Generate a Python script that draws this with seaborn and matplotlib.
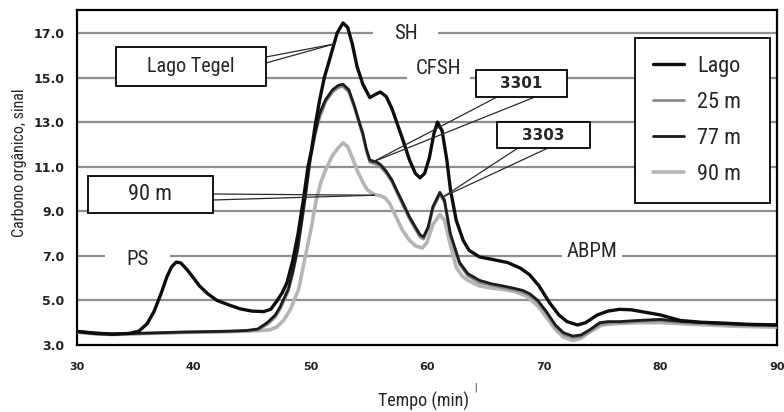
import numpy as np
import pandas as pd
import matplotlib
matplotlib.use('Agg')
import matplotlib.pyplot as plt
import seaborn as sns
from matplotlib import font_manager
from matplotlib.patches import Rectangle

# ---------------- data ----------------
t_lago = [30.0, 31.5, 33.0, 34.5, 35.3, 36.0, 36.6, 37.2, 37.7, 38.1,
          38.5, 38.9, 39.4, 40.0, 40.5, 41.2, 42.0, 43.0, 44.0, 45.0,
          46.0, 46.6, 47.1, 47.6, 48.0, 48.5, 48.95, 49.4, 49.8, 50.1,
          50.4, 50.8, 51.2, 51.7, 52.3, 52.8, 53.2, 53.6, 54.0, 54.5,
          55.1, 55.6, 56.0, 56.5, 57.0, 57.4, 58.0, 58.5, 59.0, 59.4,
          59.8, 60.2, 60.6, 60.9, 61.3, 61.7, 62.0, 62.5, 63.1, 63.6,
          64.5, 65.5, 66.9, 68.0, 68.8, 69.6, 70.5, 71.3, 72.0, 72.9,
          73.6, 74.6, 75.5, 76.5, 77.5, 78.9, 80.0, 81.7, 83.5, 85.5,
          87.5, 90.0]
v_lago = [3.60, 3.52, 3.48, 3.52, 3.62, 3.95, 4.50, 5.30, 6.05, 6.50,
          6.72, 6.68, 6.40, 6.00, 5.65, 5.30, 5.00, 4.80, 4.62, 4.52,
          4.50, 4.60, 4.95, 5.35, 5.80, 6.80, 8.00, 9.50, 11.0, 11.75,
          12.8, 14.0, 15.0, 15.9, 17.0, 17.45, 17.25, 16.5, 15.5, 14.7,
          14.1, 14.25, 14.35, 14.15, 13.6, 13.0, 12.1, 11.3, 10.7, 10.5,
          10.7, 11.4, 12.5, 13.0, 12.6, 11.3, 10.0, 8.6, 7.7, 7.25,
          6.95, 6.85, 6.70, 6.45, 6.15, 5.65, 4.90, 4.35, 4.05, 3.90,
          4.00, 4.35, 4.52, 4.60, 4.58, 4.45, 4.35, 4.10, 4.02, 3.98,
          3.93, 3.90]

t_25 = [30.0, 31.5, 33.0, 35.0, 37.0, 39.0, 41.0, 43.0, 44.5, 45.5,
        46.3, 47.0, 47.4, 48.1, 48.5, 48.9, 49.3, 49.6, 50.0, 50.4,
        50.8, 51.3, 51.9, 52.4, 52.8, 53.3, 53.8, 54.2, 54.5, 54.8,
        55.1, 55.7, 56.0, 56.5, 57.0, 57.4, 58.0, 58.5, 59.0, 59.4,
        59.7, 60.1, 60.5, 61.1, 61.5, 62.0, 62.8, 63.5, 64.5, 65.5,
        66.5, 67.4, 68.2, 68.8, 69.5, 70.3, 71.0, 71.7, 72.5, 73.2,
        74.0, 74.8, 75.5, 76.5, 78.0, 80.0, 82.0, 84.0, 86.0, 88.0,
        90.0]
v_25 = [3.60, 3.52, 3.48, 3.50, 3.53, 3.56, 3.58, 3.60, 3.63, 3.68,
        3.92, 4.25, 4.60, 5.40, 6.20, 7.20, 8.60, 9.70, 11.3, 12.4,
        13.2, 13.9, 14.35, 14.55, 14.60, 14.35, 13.6, 12.9, 12.4, 11.7,
        11.2, 11.1, 11.0, 10.7, 10.3, 9.85, 9.20, 8.65, 8.20, 7.85,
        7.75, 8.20, 9.10, 9.75, 9.40, 7.90, 6.60, 6.10, 5.80, 5.68,
        5.58, 5.48, 5.38, 5.22, 4.92, 4.38, 3.82, 3.48, 3.33, 3.38,
        3.62, 3.92, 3.98, 4.00, 4.05, 4.08, 4.00, 3.95, 3.90, 3.88,
        3.86]

t_77 = [30.0, 31.5, 33.0, 35.0, 37.0, 39.0, 41.0, 43.0, 44.5, 45.5,
        46.3, 47.0, 47.4, 48.1, 48.5, 48.9, 49.3, 49.6, 50.0, 50.4,
        50.8, 51.3, 51.9, 52.4, 52.8, 53.3, 53.8, 54.2, 54.5, 54.8,
        55.1, 55.7, 56.0, 56.5, 57.0, 57.4, 58.0, 58.5, 59.0, 59.4,
        59.7, 60.1, 60.5, 61.1, 61.5, 62.0, 62.8, 63.5, 64.5, 65.5,
        66.5, 67.4, 68.2, 68.8, 69.5, 70.3, 71.0, 71.7, 72.5, 73.2,
        74.0, 74.8, 75.5, 76.5, 78.0, 80.0, 82.0, 84.0, 86.0, 88.0,
        90.0]
v_77 = [3.62, 3.55, 3.50, 3.52, 3.55, 3.58, 3.60, 3.62, 3.65, 3.72,
        4.00, 4.35, 4.70, 5.50, 6.30, 7.30, 8.70, 9.80, 11.4, 12.5,
        13.4, 14.0, 14.45, 14.65, 14.70, 14.45, 13.7, 13.0, 12.5, 11.8,
        11.3, 11.2, 11.1, 10.8, 10.4, 9.95, 9.30, 8.75, 8.30, 7.95,
        7.85, 8.30, 9.20, 9.85, 9.50, 8.00, 6.70, 6.20, 5.90, 5.75,
        5.65, 5.55, 5.45, 5.30, 5.00, 4.45, 3.90, 3.55, 3.40, 3.45,
        3.70, 4.00, 4.05, 4.05, 4.10, 4.15, 4.05, 4.00, 3.95, 3.90,
        3.90]

t_90 = [30.0, 31.5, 33.0, 35.0, 37.0, 39.0, 41.0, 43.0, 45.0, 46.5,
        47.1, 47.7, 48.3, 49.0, 49.5, 50.1, 50.5, 50.9, 51.3, 51.9,
        52.4, 52.8, 53.2, 53.6, 54.0, 54.5, 54.9, 55.5, 56.0, 56.4,
        56.8, 57.3, 57.9, 58.5, 59.0, 59.6, 60.0, 60.5, 61.1, 61.5,
        62.0, 62.5, 63.0, 63.5, 64.5, 65.5, 66.5, 67.5, 68.5, 69.5,
        70.3, 71.0, 71.7, 72.5, 73.2, 74.0, 75.0, 76.0, 78.0, 80.0,
        82.0, 84.0, 86.0, 88.0, 90.0]
v_90 = [3.58, 3.50, 3.47, 3.50, 3.53, 3.56, 3.58, 3.60, 3.63, 3.68,
        3.80, 4.10, 4.60, 5.50, 6.80, 8.30, 9.50, 10.3, 10.85, 11.5,
        11.85, 12.07, 11.9, 11.4, 10.85, 10.3, 9.95, 9.75, 9.70, 9.60,
        9.35, 8.80, 8.15, 7.70, 7.45, 7.35, 7.60, 8.40, 8.85, 8.60,
        7.50, 6.50, 6.10, 5.90, 5.65, 5.55, 5.50, 5.40, 5.20, 4.75,
        4.20, 3.70, 3.35, 3.20, 3.30, 3.60, 3.90, 3.95, 4.00, 4.00,
        3.95, 3.90, 3.85, 3.82, 3.80]

series_names = ['Lago', '25 m', '77 m', '90 m']
y_ticks = [3.0, 5.0, 7.0, 9.0, 11.0, 13.0, 15.0, 17.0]
x_ticks = [30, 40, 50, 60, 70, 80, 90]

# ---------------- styling ----------------
sns.set_theme(style='white')
avail = {f.name for f in font_manager.fontManager.ttflist}
cond = next((f for f in ['Liberation Sans Narrow', 'DejaVu Sans Condensed',
                         'Roboto Condensed', 'Open Sans Condensed']
             if f in avail), 'DejaVu Sans')
plt.rcParams['font.family'] = ['DejaVu Sans']

W, H = 784, 412
fig = plt.figure(figsize=(W / 100, H / 100), dpi=100)
L, R, T, B = 77, 777, 10, 345
ax = fig.add_axes([L / W, 1 - B / H, (R - L) / W, (B - T) / H])

df = pd.concat([
    pd.DataFrame({'Tempo': t, 'Sinal': v, 'Amostra': n})
    for n, t, v in [('Lago', t_lago, v_lago), ('25 m', t_25, v_25),
                    ('77 m', t_77, v_77), ('90 m', t_90, v_90)]
])

style = {'90 m': ('#b5b5b5', 2.6, 3.0),
         '25 m': ('#8a8a8a', 2.0, 3.1),
         '77 m': ('#1c1c1c', 2.0, 3.2),
         'Lago': ('#0d0d0d', 2.4, 3.3)}
for name in ['90 m', '25 m', '77 m', 'Lago']:
    c, lw, z = style[name]
    sns.lineplot(data=df[df.Amostra == name], x='Tempo', y='Sinal', ax=ax,
                 color=c, lw=lw, estimator=None, sort=False, label=name,
                 zorder=z)

ax.set_xlim(30, 90)
ax.set_ylim(3.0, 18.03)
ax.set_xticks(x_ticks)
ax.set_xticklabels([str(x) for x in x_ticks])
ax.set_yticks(y_ticks)
ax.set_yticklabels([f'{y:.1f}' for y in y_ticks])
ax.set_xlabel('')
ax.set_ylabel('')
ax.grid(False)
for s in ax.spines.values():
    s.set_color('black')
    s.set_linewidth(1.6)
ax.tick_params(axis='both', direction='out', length=5, width=1.4,
               color='black', labelcolor='#222222')
ax.tick_params(axis='x', pad=7, labelsize=8)
ax.tick_params(axis='y', pad=4, labelsize=9)
for lab in ax.get_xticklabels() + ax.get_yticklabels():
    lab.set_fontweight('bold')

# grid lines with gaps for the in-plot labels
gaps = {17.0: [(55.4, 60.9)], 15.0: [(58.3, 63.7)],
        7.0: [(32.4, 38.0), (71.6, 76.7)]}
for y in y_ticks[1:]:
    segs = []
    start = 30
    for a, b in gaps.get(y, []):
        segs.append((start, a))
        start = b
    segs.append((start, 90))
    for a, b in segs:
        ax.hlines(y, a, b, color='#8f8f8f', lw=1.6, zorder=1)

# in-plot region labels
ax.text(58.2, 16.96, 'SH', family=cond, fontsize=15, ha='center', va='center', zorder=5)
ax.text(61.0, 15.41, 'CFSH', family=cond, fontsize=15, ha='center', va='center', zorder=5)
ax.text(35.2, 6.82, 'PS', family=cond, fontsize=15, ha='center', va='center', zorder=5)
ax.text(74.1, 7.18, 'ABPM', family=cond, fontsize=15, ha='center', va='center', zorder=5)

# callout boxes (pixel coords) and their leader lines
def px(x, y):
    return (x / W, 1 - y / H)

def callout(x0, y0, x1, y1, text, tails, tip, **kw):
    for tx, ty in tails:
        ax.annotate('', xy=tip, xycoords='data', xytext=(tx, H - ty),
                    textcoords='figure pixels',
                    arrowprops=dict(arrowstyle='-', color='#2a2a2a', lw=0.9,
                                    shrinkA=0, shrinkB=0), zorder=6)
    r = Rectangle(px(x0, y1), (x1 - x0) / W, (y1 - y0) / H,
                  transform=fig.transFigure, facecolor='white',
                  edgecolor='black', lw=1.3, zorder=7)
    fig.add_artist(r)
    fig.text((x0 + x1) / 2 / W, 1 - (y0 + y1) / 2 / H, text,
             ha='center', va='center', zorder=8, **kw)

callout(116, 47, 266, 86, 'Lago Tegel', [(266, 57), (266, 63)], (52.0, 16.5),
        family=cond, fontsize=14.5)
callout(88, 176, 213, 213, '90 m', [(213, 194), (213, 200)], (55.5, 9.72),
        family=cond, fontsize=16)
callout(476, 70, 567, 97, '3301', [(497, 97), (535, 97)], (55.3, 11.2),
        fontsize=11, fontweight='bold')
callout(497, 122, 590, 148, '3303', [(518, 148), (548, 148)], (61.4, 9.65),
        fontsize=11, fontweight='bold')

# legend
h, l = ax.get_legend_handles_labels()
hd = dict(zip(l, h))
x0a = (635 - L) / (R - L)
wa = (770 - 635) / (R - L)
topa = (B - 38) / (B - T)
leg = ax.legend([hd[k] for k in series_names], series_names,
                loc='upper left', bbox_to_anchor=(x0a, topa - 0.5, wa, 0.5),
                mode='expand', borderaxespad=0, fancybox=False,
                framealpha=1, edgecolor='black', handlelength=1.4,
                handletextpad=0.6, labelspacing=0.68, borderpad=0.8,
                prop={'family': cond, 'size': 16})
leg.get_frame().set_linewidth(1.3)
leg.set_zorder(9)

# axis titles
fig.text(20 / W, 1 - 163 / H, 'Carbono orgânico, sinal', rotation=90,
         ha='center', va='center', family=cond, fontsize=11.5)
fig.text(423 / W, 1 - 401 / H, 'Tempo (min)', ha='center', va='center',
         family=cond, fontsize=13)
fig.text(475 / W, 1 - 388 / H, '|', ha='center', va='center',
         family=cond, fontsize=7)

fig.savefig('out.png', dpi=100)
